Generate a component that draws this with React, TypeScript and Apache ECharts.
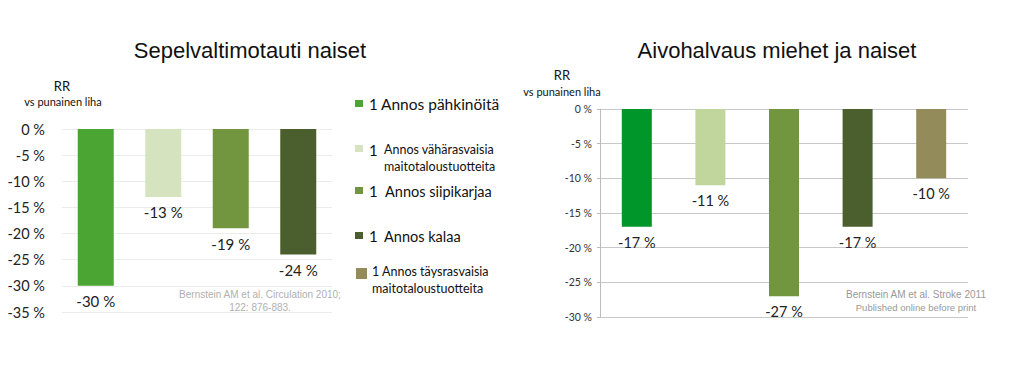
import React, { useEffect, useRef } from "react";
import * as echarts from "echarts";

const leftTitle = "Sepelvaltimotauti naiset";
const rightTitle = "Aivohalvaus miehet ja naiset";
const leftCategories = ["pähkinöitä", "vähärasvaisia maitotaloustuotteita", "siipikarjaa", "kalaa"];
const leftValues = [-30, -13, -19, -24];
const leftColors = ["#4aa532", "#d5e4bf", "#72963f", "#4a5f2d"];
const rightCategories = ["pähkinöitä", "vähärasvaisia maitotaloustuotteita", "siipikarjaa", "kalaa", "täysrasvaisia maitotaloustuotteita"];
const rightValues = [-17, -11, -27, -17, -10];
const rightColors = ["#00962a", "#c0d69c", "#72963f", "#4a5f2d", "#948b5a"];
const legendLabels = [
  { num: "1", text: "Annos pähkinöitä", color: "#4aa532" },
  { num: "1", text: "Annos vähärasvaisia\nmaitotaloustuotteita", color: "#d5e4bf" },
  { num: "1", text: "Annos siipikarjaa", color: "#72963f" },
  { num: "1", text: "Annos kalaa", color: "#4a5f2d" },
  { num: "", text: "1 Annos täysrasvaisia\nmaitotaloustuotteita", color: "#948b5a" },
];
const leftCitation = "Bernstein AM et al. Circulation 2010;\n122: 876-883.";
const rightCitation1 = "Bernstein AM et al. Stroke 2011";
const rightCitation2 = "Published online before print";

const FONT = "Lato, 'Noto Sans', sans-serif";
const ARIAL = "'Liberation Sans', Arial, sans-serif";

export default function App() {
  const ref = useRef<HTMLDivElement>(null);
  useEffect(() => {
    const chart = echarts.init(ref.current!, null, { renderer: "svg" });

    const legendLayout = [
      { sq: [355, 100, 8, 7], numX: 369, numY: 104, textX: 381, textY: 104, size: 15.5 },
      { sq: [355, 145, 8, 7], numX: 369, numY: 150, textX: 384, textY: 158, size: 12.5 },
      { sq: [355, 187, 8, 7], numX: 369, numY: 191, textX: 385, textY: 191, size: 14.5 },
      { sq: [355, 232, 8, 7], numX: 369, numY: 236, textX: 384, textY: 236, size: 14.5 },
      { sq: [356, 268, 11, 11], numX: 373, numY: 272, textX: 372, textY: 280, size: 12.5 },
    ];

    const graphic: any[] = [
      { type: "text", style: { text: leftTitle, x: 250, y: 50, align: "center", verticalAlign: "middle", font: `22px ${ARIAL}`, fill: "#111" } },
      { type: "text", style: { text: rightTitle, x: 777, y: 50, align: "center", verticalAlign: "middle", font: `22px ${ARIAL}`, fill: "#111" } },
      { type: "text", style: { text: "RR", x: 62, y: 86, align: "center", verticalAlign: "middle", font: `13px ${FONT}`, fill: "#111" } },
      { type: "text", style: { text: "vs punainen liha", x: 63, y: 101, align: "center", verticalAlign: "middle", font: `11px ${FONT}`, fill: "#111" } },
      { type: "text", style: { text: "RR", x: 562, y: 75, align: "center", verticalAlign: "middle", font: `13px ${FONT}`, fill: "#111" } },
      { type: "text", style: { text: "vs punainen liha", x: 562, y: 91, align: "center", verticalAlign: "middle", font: `11px ${FONT}`, fill: "#111" } },
      { type: "text", style: { text: leftCitation, x: 260, y: 301, align: "center", verticalAlign: "middle", font: `10px ${ARIAL}`, fill: "#b0b0b0", lineHeight: 13 } },
      { type: "text", style: { text: rightCitation1, x: 916, y: 294, align: "center", verticalAlign: "middle", font: `10px ${ARIAL}`, fill: "#999" } },
      { type: "text", style: { text: rightCitation2, x: 916, y: 307, align: "center", verticalAlign: "middle", font: `9.5px ${ARIAL}`, fill: "#999" } },
    ];
    legendLabels.forEach((l, i) => {
      const p = legendLayout[i];
      graphic.push({ type: "rect", shape: { x: p.sq[0], y: p.sq[1], width: p.sq[2], height: p.sq[3] }, style: { fill: l.color } });
      if (l.num) {
        graphic.push({ type: "text", style: { text: l.num, x: p.numX, y: p.numY, verticalAlign: "middle", font: `15px ${FONT}`, fill: "#111" } });
      }
      graphic.push({ type: "text", style: { text: l.text, x: p.textX, y: p.textY, verticalAlign: "middle", font: `${p.size}px ${FONT}`, fill: "#111", lineHeight: 17 } });
    });

    chart.setOption({
      animation: false,
      backgroundColor: "#fff",
      grid: [
        { left: 62, top: 129, width: 270, height: 183 },
        { left: 600, top: 109, width: 368, height: 208 },
      ],
      xAxis: [
        { type: "category", gridIndex: 0, data: leftCategories, show: false },
        { type: "category", gridIndex: 1, data: rightCategories, show: false },
      ],
      yAxis: [
        {
          type: "value", gridIndex: 0, min: -35, max: 0, interval: 5,
          axisLine: { show: false }, axisTick: { show: false },
          splitLine: { lineStyle: { color: "#ececec", width: 1 } },
          axisLabel: { formatter: (v: number) => `${v} %`, fontSize: 14.5, fontFamily: FONT, color: "#222", margin: 17 },
        },
        {
          type: "value", gridIndex: 1, min: -30, max: 0, interval: 5,
          axisLine: { show: true, lineStyle: { color: "#bbb" } },
          axisTick: { show: true, length: 3, lineStyle: { color: "#bbb" } },
          splitLine: { lineStyle: { color: "#c8c8c8", width: 1 } },
          axisLabel: { formatter: (v: number) => `${v} %`, fontSize: 10.5, fontFamily: FONT, color: "#333", margin: 8 },
        },
      ],
      series: [
        {
          type: "bar", xAxisIndex: 0, yAxisIndex: 0, barWidth: 36,
          data: leftValues.map((v, i) => ({ value: v, itemStyle: { color: leftColors[i] } })),
          label: { show: true, position: "bottom", distance: 8, formatter: (p: any) => `${p.value} %`, fontSize: 15, fontFamily: FONT, color: "#222" },
        },
        {
          type: "bar", xAxisIndex: 1, yAxisIndex: 1, barWidth: 30,
          data: rightValues.map((v, i) => ({ value: v, itemStyle: { color: rightColors[i] } })),
          label: { show: true, position: "bottom", distance: 8, formatter: (p: any) => `${p.value} %`, fontSize: 14.5, fontFamily: FONT, color: "#222" },
        },
      ],
      graphic,
    });
    return () => chart.dispose();
  }, []);
  return <div ref={ref} style={{ position: "fixed", left: 0, top: 0, width: 1024, height: 383 }} />;
}
